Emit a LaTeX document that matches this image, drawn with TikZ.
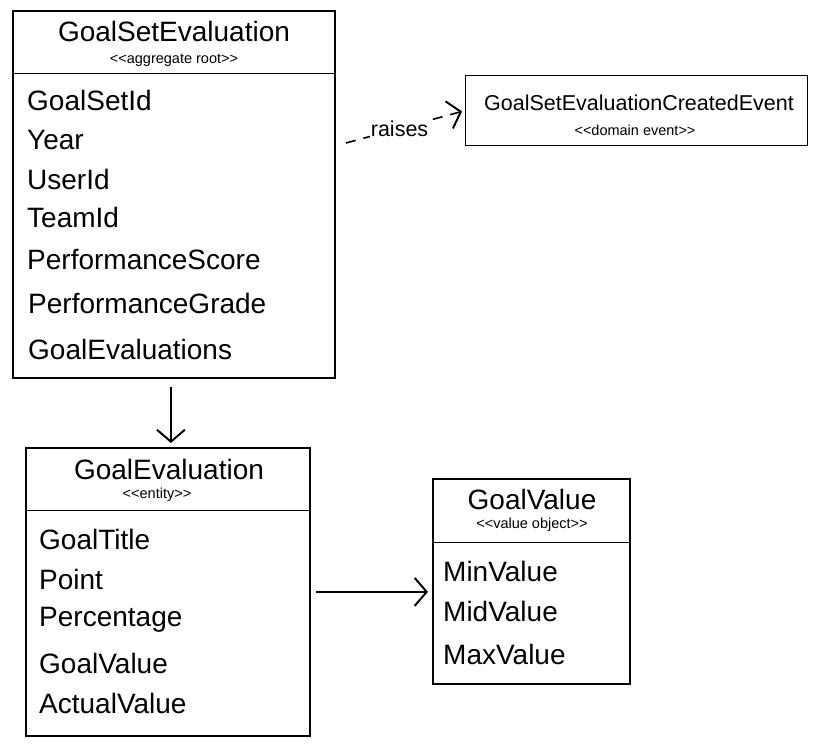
\documentclass[tikz,border=0pt]{standalone}
\usepackage{fontspec}
\setmainfont{Liberation Sans}
\usetikzlibrary{arrows.meta}
\newcommand{\fbig}{\fontsize{28}{31}\selectfont}
\newcommand{\fevt}{\fontsize{21.5}{24}\selectfont}
\newcommand{\fster}{\fontsize{14.5}{16}\selectfont}
\newcommand{\ltlt}{<{}<}
\newcommand{\gtgt}{>{}>}
\tikzset{
  umlbox/.style={draw, line width=1.8pt, rectangle, anchor=north west, inner sep=0pt},
  divider/.style={line width=1pt},
  attr/.style={anchor=west, inner sep=0pt, font=\fbig},
  ttl/.style={inner sep=0pt, font=\fbig},
  ster/.style={inner sep=0pt, font=\fster},
  arr/.style={line width=2pt, -{Straight Barb[length=12pt,width=28pt,line width=2pt]}},
}
\begin{document}
\begin{tikzpicture}[x=1pt,y=-1pt]
\useasboundingbox (0,0) rectangle (817,745);
% GoalSetEvaluation
\node[umlbox, minimum width=322pt, minimum height=367pt] (gse) at (12,10) {};
\draw[divider] (12,73) -- (334,73);
\node[ttl] (gseT) at (174,31) {GoalSetEvaluation};
\node[ster] (gseS) at (174,60) {\ltlt aggregate root\gtgt};
\node[attr] (a1) at (27,100) {GoalSetId};
\node[attr] (a2) at (27,140) {Year};
\node[attr] (a3) at (27,179) {UserId};
\node[attr] (a4) at (27,217) {TeamId};
\node[attr] (a5) at (27,260) {PerformanceScore};
\node[attr] (a6) at (28,303) {PerformanceGrade};
\node[attr] (a7) at (28,349) {GoalEvaluations};
% Event
\node[umlbox, line width=1.2pt, minimum width=342pt, minimum height=70pt] (ev) at (465,75) {};
\node[inner sep=0pt, font=\fevt] (evT) at (639,103) {GoalSetEvaluationCreatedEvent};
\node[ster] (evS) at (635,130) {\ltlt domain event\gtgt};
% GoalEvaluation
\node[umlbox, minimum width=284pt, minimum height=288pt] (ge) at (25,447) {};
\draw[divider] (25,510) -- (309,510);
\node[ttl] (geT) at (169,469) {GoalEvaluation};
\node[ster] (geS) at (157,495) {\ltlt entity\gtgt};
\node[attr] (b1) at (39,539) {GoalTitle};
\node[attr] (b2) at (39,579) {Point};
\node[attr] (b3) at (39,620) {Percentage};
\node[attr] (b4) at (39,663) {GoalValue};
\node[attr] (b5) at (39,703) {ActualValue};
% GoalValue
\node[umlbox, minimum width=197pt, minimum height=205pt] (gv) at (432,478) {};
\draw[divider] (432,542) -- (629,542);
\node[ttl] (gvT) at (532,499) {GoalValue};
\node[ster] (gvS) at (532,525) {\ltlt value object\gtgt};
\node[attr] (c1) at (443,571) {MinValue};
\node[attr] (c2) at (443,611) {MidValue};
\node[attr] (c3) at (443,654) {MaxValue};
% connectors
\draw[arr, shorten <=8pt, shorten >=4pt] ([xshift=-3pt]gse.south) -- ([xshift=3pt]ge.north);
\draw[arr, shorten <=5pt, shorten >=4pt] (ge.east) -- (ge.east -| gv.west);
\coordinate (rs) at (346,143);
\draw[arr, line width=1.6pt, dashed, dash pattern=on 10pt off 8pt, shorten >=3pt] (rs) -- node[pos=0.45, fill=white, inner sep=1pt, font=\fevt] (rl) {raises} (ev.west);
\end{tikzpicture}
\end{document}
